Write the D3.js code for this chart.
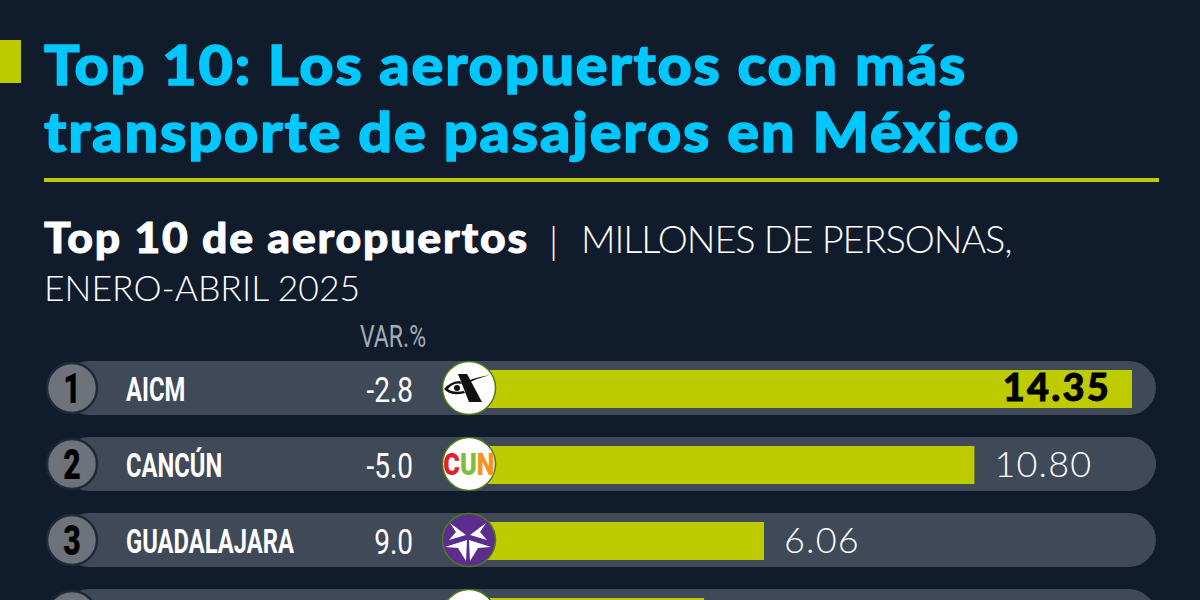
<!DOCTYPE html>
<html>
<head>
<meta charset="utf-8">
<script src="https://cdn.jsdelivr.net/npm/d3@7"></script>
<style>
  html, body { margin: 0; padding: 0; background: #101c2b; overflow: hidden; }
  svg { display: block; font-family: 'Lato', sans-serif; }
</style>
</head>
<body>
<svg id="chart" width="1200" height="600"></svg>
<script>
const ranks = [1, 2, 3, 4]
const airports = ['AICM', 'CANCÚN', 'GUADALAJARA']
const variations = ['-2.8', '-5.0', '9.0']
const passengers = [14.35, 10.80, 6.06, 4.71]
const valueLabels = ['14.35', '10.80', '6.06']

const lime = '#bdcb00'
const cyan = '#00c8ff'
const track = '#3f4958'
const narrow = 'Roboto'

const svg = d3.select('#chart')
const x = d3.scaleLinear().domain([0, 14.35]).range([495, 1132])
const y = d3.scaleBand().domain(ranks).range([361, 643]).paddingInner(22 / 76).paddingOuter(0)
const rowMid = r => y(r) + y.bandwidth() / 2

// no condensed font installed, so squeeze the glyphs
const squeeze = (px, py, sx) => `translate(${px},${py}) scale(${sx},1)`

// encabezado
svg.append('rect').attr('x', 0).attr('y', 40).attr('width', 21).attr('height', 43).attr('fill', lime)
svg.append('text').attr('transform', squeeze(44, 85, 1.06)).attr('fill', cyan)
  .attr('stroke', cyan).attr('stroke-width', 1.4)
  .attr('font-size', 56).attr('font-weight', 900).attr('letter-spacing', 1.7)
  .text('Top 10: Los aeropuertos con más')
svg.append('text').attr('transform', squeeze(44, 152, 1.06)).attr('fill', cyan)
  .attr('stroke', cyan).attr('stroke-width', 1.4)
  .attr('font-size', 56).attr('font-weight', 900).attr('letter-spacing', 1.8)
  .text('transporte de pasajeros en México')
svg.append('rect').attr('x', 44).attr('y', 178).attr('width', 1115).attr('height', 4).attr('fill', lime)

svg.append('text').attr('transform', squeeze(44, 253, 1.06)).attr('fill', '#fff')
  .attr('stroke', '#fff').attr('stroke-width', 0.9)
  .attr('font-size', 42).attr('font-weight', 900).attr('letter-spacing', 1.7)
  .text('Top 10 de aeropuertos')
svg.append('text').attr('x', 549).attr('y', 254).attr('fill', '#fff')
  .attr('font-size', 38).attr('font-weight', 300).text('|')
svg.append('text').attr('x', 581).attr('y', 253).attr('fill', '#fff')
  .attr('font-size', 38).attr('font-weight', 300).attr('letter-spacing', -1.1)
  .text('MILLONES DE PERSONAS,')
svg.append('text').attr('x', 44).attr('y', 301).attr('fill', '#fff')
  .attr('font-size', 35.5).attr('font-weight', 300).text('ENERO-ABRIL 2025')

svg.append('text').attr('transform', squeeze(426, 347, 0.72)).attr('text-anchor', 'end').attr('fill', '#a4abb3')
  .attr('font-family', narrow).attr('font-size', 32).text('VAR.%')

// filas
const rows = svg.selectAll('g.row').data(ranks).join('g').attr('class', 'row')

rows.append('rect').attr('x', 62).attr('y', d => y(d)).attr('width', 1156 - 62)
  .attr('height', y.bandwidth()).attr('rx', y.bandwidth() / 2).attr('fill', track)

rows.append('rect').attr('x', x(0) - 30).attr('y', d => rowMid(d) - 18)
  .attr('width', (d, i) => x(passengers[i]) - x(0) + 30).attr('height', 38).attr('fill', lime)

rows.append('circle').attr('cx', 72).attr('cy', rowMid).attr('r', 25)
  .attr('fill', '#6d727b').attr('stroke', '#1c2a3c').attr('stroke-width', 2.5)

rows.append('circle').attr('cx', 469).attr('cy', rowMid).attr('r', 26.5)
  .attr('fill', (d, i) => i === 2 ? '#5b2d8c' : '#fff').attr('stroke', '#4f7a1c').attr('stroke-width', 1.5)

// solo las tres filas con texto visible
const labeled = rows.filter((d, i) => i < airports.length)

labeled.append('text').attr('transform', d => squeeze(72, rowMid(d) + 15, 0.72)).attr('text-anchor', 'middle')
  .attr('font-family', narrow).attr('font-weight', 900).attr('font-size', 42)
  .attr('fill', '#000').text(d => d)

labeled.append('text').attr('transform', d => squeeze(126, rowMid(d) + 13, 0.72))
  .attr('font-family', narrow).attr('font-weight', 700).attr('font-size', 33)
  .attr('fill', '#fff').text((d, i) => airports[i])

labeled.append('text').attr('transform', d => squeeze(413, rowMid(d) + 14, 0.8)).attr('text-anchor', 'end')
  .attr('font-family', narrow).attr('font-size', 35)
  .attr('fill', '#fff').text((d, i) => variations[i])

labeled.append('text').attr('x', (d, i) => i === 0 ? x(passengers[i]) - 21 : x(passengers[i]) + 20)
  .attr('y', d => rowMid(d) + 13)
  .attr('text-anchor', (d, i) => i === 0 ? 'end' : 'start')
  .attr('font-size', (d, i) => i === 0 ? 38 : 36)
  .attr('letter-spacing', (d, i) => i === 0 ? 2.2 : 1.2)
  .attr('font-weight', (d, i) => i === 0 ? 900 : 300)
  .attr('stroke', (d, i) => i === 0 ? '#000' : 'none').attr('stroke-width', 0.8)
  .attr('fill', (d, i) => i === 0 ? '#000' : '#fff')
  .text((d, i) => valueLabels[i])

// logos
const logoAicm = svg.append('g').attr('transform', `translate(469,${rowMid(1)})`).attr('fill', '#111')
logoAicm.append('path').attr('d', 'M-11,-14 L-2,-14 L13,14 L0,14 Z')
logoAicm.append('path').attr('d', 'M-2,-7 Q8,-11 21,-13 Q9,-10 -1,-5 Z')
logoAicm.append('path').attr('d', 'M-25,1 Q-18,-7 -9,-7 L-7,-4 Q-15,-6 -21,1 Q-16,5 -5,3 L-4,5 Q-18,9 -25,1 Z')
logoAicm.append('circle').attr('cx', -12).attr('cy', 0).attr('r', 3)

const logoCun = svg.append('text').attr('transform', squeeze(469, rowMid(2) + 11, 0.82))
  .attr('text-anchor', 'middle').attr('font-size', 31).attr('font-weight', 900)
  .attr('font-family', narrow)
logoCun.append('tspan').attr('fill', '#e2202e').text('C')
logoCun.append('tspan').attr('fill', '#85bb3c').text('U')
logoCun.append('tspan').attr('fill', '#f7931e').text('N')

svg.append('path').attr('transform', `translate(468,${rowMid(3)})`).attr('fill', '#fff')
  .attr('d', 'M-18,-17 L-2,-5 L-19,0 L-12,-8 Z M18,-17 L2,-5 L19,0 L12,-8 Z M-1,0 L-2,21 L-10,8 L-23,7 Z M1,0 L2,21 L10,8 L23,7 Z')
</script>
</body>
</html>
